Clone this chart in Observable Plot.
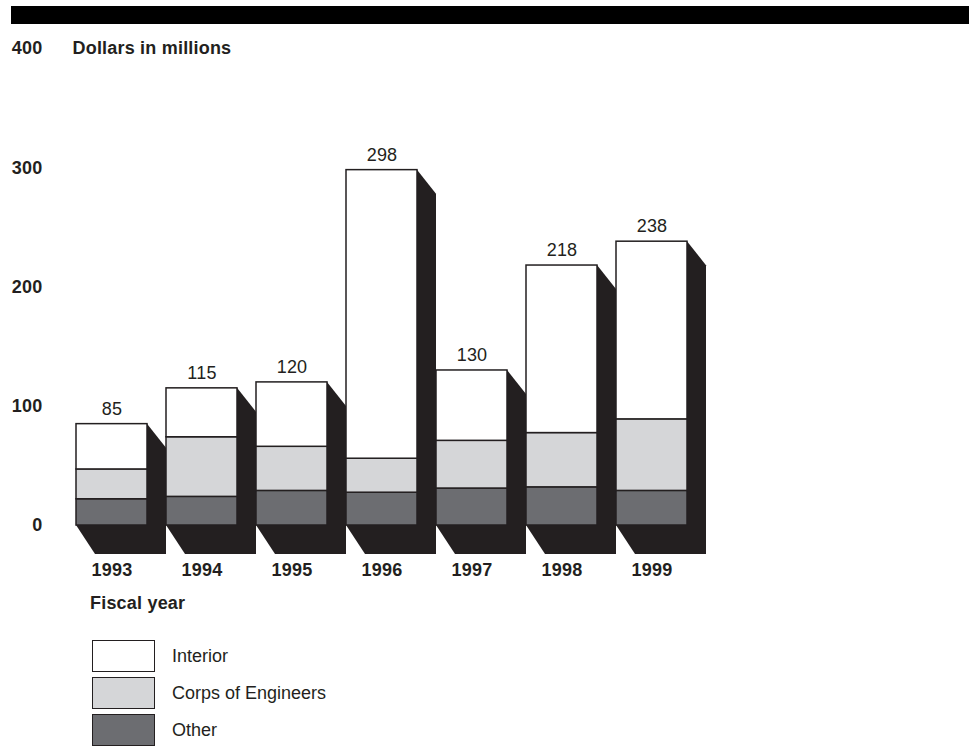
<!DOCTYPE html>
<html>
<head>
<meta charset="utf-8">
<script src="https://cdn.jsdelivr.net/npm/d3@7"></script>
<script src="https://cdn.jsdelivr.net/npm/@observablehq/plot@0.6"></script>
<style>
  html, body { margin: 0; padding: 0; background: #fff; }
  body { width: 969px; height: 748px; position: relative; overflow: hidden; font-family: "Liberation Sans", Arial, sans-serif; color: #231f20; }
  #topbar { position: absolute; left: 11px; top: 6px; width: 958px; height: 18px; background: #000; }
  #chart { position: absolute; left: 0; top: 0; }
  #chart text { letter-spacing: 0.2px; }
  #xlabel { position: absolute; left: 90px; top: 593px; font-weight: bold; font-size: 18px; letter-spacing: 0.2px; }
  #legend { position: absolute; left: 92px; top: 640px; }
  .row { display: flex; align-items: center; height: 32px; margin-bottom: 5px; }
  .sw { width: 61px; height: 30px; border: 1.5px solid #231f20; box-sizing: content-box; }
  .lab { margin-left: 17px; font-size: 18px; }
</style>
</head>
<body>
<div id="topbar"></div>
<div id="chart"></div>
<div id="xlabel">Fiscal year</div>
<div id="legend"></div>
<script>
// Data (dollars in millions)
const years = ["1993", "1994", "1995", "1996", "1997", "1998", "1999"];
const other = [22, 24, 29, 27.5, 31, 32, 29];
const corps = [25, 50, 37, 28.5, 40, 45.5, 60];
const interior = [38, 41, 54, 242, 59, 140.5, 149];
const totals = [85, 115, 120, 298, 130, 218, 238];
const yTicks = [0, 100, 200, 300, 400];
const categories = ["Interior", "Corps of Engineers", "Other"];
const colors = ["#ffffff", "#d5d6d8", "#6c6d71"];

// Long table, bottom segment first so the stack follows input order
const rows = [];
years.forEach((y, i) => {
  rows.push({year: y, category: "Other", value: other[i]});
  rows.push({year: y, category: "Corps of Engineers", value: corps[i]});
  rows.push({year: y, category: "Interior", value: interior[i]});
});
const totalRows = years.map((y, i) => ({year: y, total: totals[i]}));

const ink = "#231f20";

function shadowRender(index, scales, values, dimensions, context) {
  const g = d3.create("svg:g");
  const bw = typeof scales.x.bandwidth === "function" ? scales.x.bandwidth() : scales.scales.x.bandwidth;
  for (const i of index) {
    const d = totalRows[i];
    const x0 = scales.x(d.year), x1 = x0 + bw;
    const top = scales.y(d.total), bot = scales.y(0);
    const pts = [[x0, top], [x1, top], [x1 + 19, top + 24], [x1 + 19, bot + 29], [x0 + 19, bot + 29], [x0, bot]];
    g.append("path").attr("d", "M" + pts.map(p => p.join(",")).join("L") + "Z").attr("fill", ink);
  }
  return g.node();
}

const chart = Plot.plot({
  width: 969,
  height: 620,
  marginTop: 48,
  marginBottom: 95,
  marginLeft: 73,
  marginRight: 279,
  style: {fontFamily: "'Liberation Sans', Arial, sans-serif", color: ink, background: "transparent"},
  x: {type: "band", domain: years, paddingInner: 0.21, paddingOuter: 0, align: 0.5},
  y: {domain: [0, 400]},
  color: {domain: categories, range: colors},
  marks: [
    Plot.barY(totalRows, {x: "year", y: "total", fill: ink, render: shadowRender}),
    Plot.barY(rows, {x: "year", y: "value", fill: "category", stroke: ink, strokeWidth: 1.5}),
    Plot.text(totalRows, {x: "year", y: "total", text: d => String(d.total), dy: -15, fontSize: 18, fill: ink}),
    Plot.axisY({ticks: yTicks, tickSize: 0, tickPadding: 31, label: null, fontSize: 18, fontWeight: "bold", fill: ink}),
    Plot.axisX({tickSize: 0, tickPadding: 38, label: null, fontSize: 18, fontWeight: "bold", fill: ink}),
    Plot.text([400], {y: d => d, text: () => "Dollars in millions", frameAnchor: "left", textAnchor: "start", dx: -1, fontSize: 18, fontWeight: "bold", fill: ink})
  ]
});
document.getElementById("chart").appendChild(chart);

// Legend
const legend = document.getElementById("legend");
categories.forEach((c, i) => {
  const row = document.createElement("div");
  row.className = "row";
  const sw = document.createElement("div");
  sw.className = "sw";
  sw.style.background = colors[i];
  const lab = document.createElement("div");
  lab.className = "lab";
  lab.textContent = c;
  row.appendChild(sw);
  row.appendChild(lab);
  legend.appendChild(row);
});
</script>
</body>
</html>
